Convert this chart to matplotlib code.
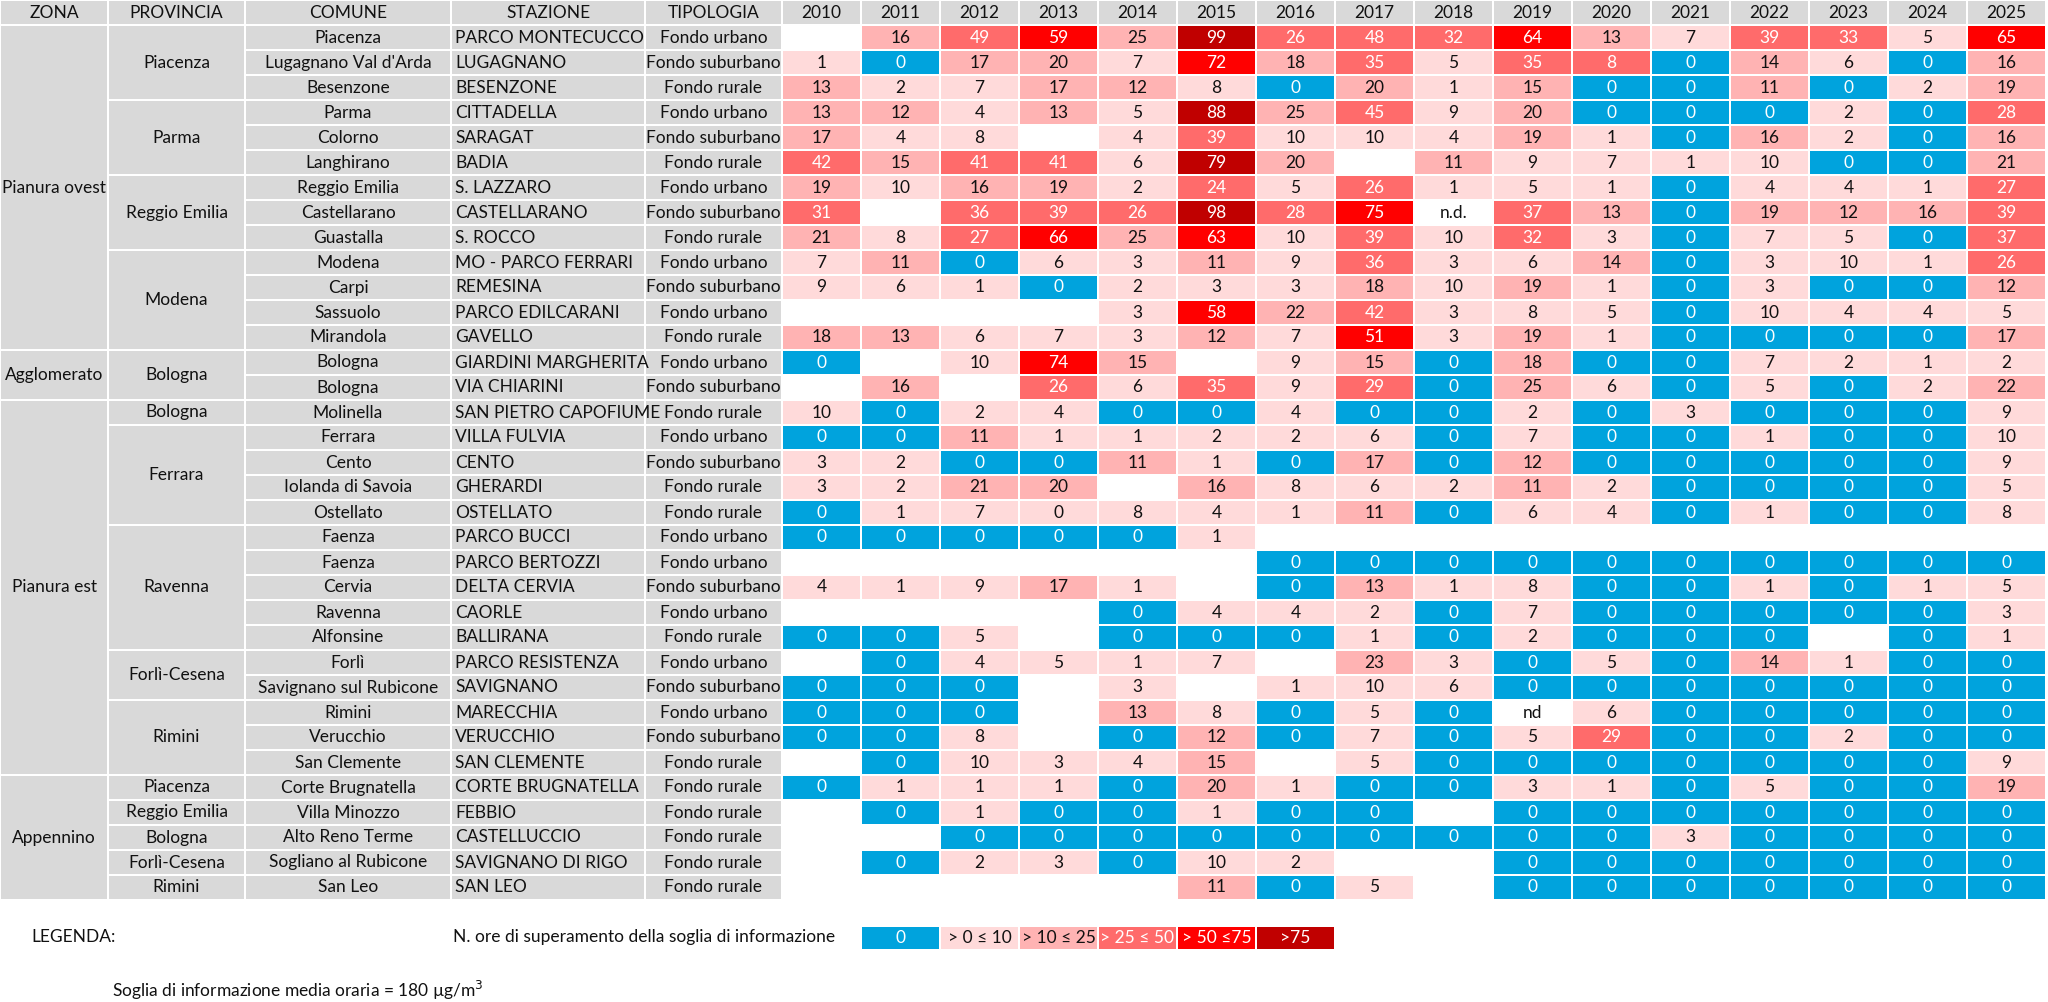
import matplotlib
matplotlib.use("Agg")
import matplotlib.pyplot as plt
from matplotlib.patches import Rectangle

plt.rcParams['font.family'] = ['Lato', 'DejaVu Sans']

anni = list(range(2010, 2026))

zone = ["Pianura ovest", "Agglomerato", "Pianura est", "Appennino"]
zone_righe = [13, 2, 15, 5]

province = ["Piacenza", "Parma", "Reggio Emilia", "Modena", "Bologna", "Bologna",
            "Ferrara", "Ravenna", "Forlì-Cesena", "Rimini",
            "Piacenza", "Reggio Emilia", "Bologna", "Forlì-Cesena", "Rimini"]
province_righe = [3, 3, 3, 4, 2, 1, 4, 5, 2, 3, 1, 1, 1, 1, 1]

comuni = ["Piacenza", "Lugagnano Val d'Arda", "Besenzone", "Parma", "Colorno", "Langhirano",
          "Reggio Emilia", "Castellarano", "Guastalla", "Modena", "Carpi", "Sassuolo", "Mirandola",
          "Bologna", "Bologna", "Molinella", "Ferrara", "Cento", "Iolanda di Savoia", "Ostellato",
          "Faenza", "Faenza", "Cervia", "Ravenna", "Alfonsine", "Forlì", "Savignano sul Rubicone",
          "Rimini", "Verucchio", "San Clemente", "Corte Brugnatella", "Villa Minozzo",
          "Alto Reno Terme", "Sogliano al Rubicone", "San Leo"]

stazioni = ["PARCO MONTECUCCO", "LUGAGNANO", "BESENZONE", "CITTADELLA", "SARAGAT", "BADIA",
            "S. LAZZARO", "CASTELLARANO", "S. ROCCO", "MO - PARCO FERRARI", "REMESINA",
            "PARCO EDILCARANI", "GAVELLO", "GIARDINI MARGHERITA", "VIA CHIARINI",
            "SAN PIETRO CAPOFIUME", "VILLA FULVIA", "CENTO", "GHERARDI", "OSTELLATO",
            "PARCO BUCCI", "PARCO BERTOZZI", "DELTA CERVIA", "CAORLE", "BALLIRANA",
            "PARCO RESISTENZA", "SAVIGNANO", "MARECCHIA", "VERUCCHIO", "SAN CLEMENTE",
            "CORTE BRUGNATELLA", "FEBBIO", "CASTELLUCCIO", "SAVIGNANO DI RIGO", "SAN LEO"]

tipologie = ["Fondo urbano", "Fondo suburbano", "Fondo rurale", "Fondo urbano", "Fondo suburbano",
             "Fondo rurale", "Fondo urbano", "Fondo suburbano", "Fondo rurale", "Fondo urbano",
             "Fondo suburbano", "Fondo urbano", "Fondo rurale", "Fondo urbano", "Fondo suburbano",
             "Fondo rurale", "Fondo urbano", "Fondo suburbano", "Fondo rurale", "Fondo rurale",
             "Fondo urbano", "Fondo urbano", "Fondo suburbano", "Fondo urbano", "Fondo rurale",
             "Fondo urbano", "Fondo suburbano", "Fondo urbano", "Fondo suburbano", "Fondo rurale",
             "Fondo rurale", "Fondo rurale", "Fondo rurale", "Fondo rurale", "Fondo rurale"]

N = None
# hours above the information threshold, 2010..2025 (None = empty cell)
ore = [
    [N, 16, 49, 59, 25, 99, 26, 48, 32, 64, 13, 7, 39, 33, 5, 65],
    [1, 0, 17, 20, 7, 72, 18, 35, 5, 35, 8, 0, 14, 6, 0, 16],
    [13, 2, 7, 17, 12, 8, 0, 20, 1, 15, 0, 0, 11, 0, 2, 19],
    [13, 12, 4, 13, 5, 88, 25, 45, 9, 20, 0, 0, 0, 2, 0, 28],
    [17, 4, 8, N, 4, 39, 10, 10, 4, 19, 1, 0, 16, 2, 0, 16],
    [42, 15, 41, 41, 6, 79, 20, N, 11, 9, 7, 1, 10, 0, 0, 21],
    [19, 10, 16, 19, 2, 24, 5, 26, 1, 5, 1, 0, 4, 4, 1, 27],
    [31, N, 36, 39, 26, 98, 28, 75, "n.d.", 37, 13, 0, 19, 12, 16, 39],
    [21, 8, 27, 66, 25, 63, 10, 39, 10, 32, 3, 0, 7, 5, 0, 37],
    [7, 11, 0, 6, 3, 11, 9, 36, 3, 6, 14, 0, 3, 10, 1, 26],
    [9, 6, 1, 0, 2, 3, 3, 18, 10, 19, 1, 0, 3, 0, 0, 12],
    [N, N, N, N, 3, 58, 22, 42, 3, 8, 5, 0, 10, 4, 4, 5],
    [18, 13, 6, 7, 3, 12, 7, 51, 3, 19, 1, 0, 0, 0, 0, 17],
    [0, N, 10, 74, 15, N, 9, 15, 0, 18, 0, 0, 7, 2, 1, 2],
    [N, 16, N, 26, 6, 35, 9, 29, 0, 25, 6, 0, 5, 0, 2, 22],
    [10, 0, 2, 4, 0, 0, 4, 0, 0, 2, 0, 3, 0, 0, 0, 9],
    [0, 0, 11, 1, 1, 2, 2, 6, 0, 7, 0, 0, 1, 0, 0, 10],
    [3, 2, 0, 0, 11, 1, 0, 17, 0, 12, 0, 0, 0, 0, 0, 9],
    [3, 2, 21, 20, N, 16, 8, 6, 2, 11, 2, 0, 0, 0, 0, 5],
    [0, 1, 7, 0, 8, 4, 1, 11, 0, 6, 4, 0, 1, 0, 0, 8],
    [0, 0, 0, 0, 0, 1, N, N, N, N, N, N, N, N, N, N],
    [N, N, N, N, N, N, 0, 0, 0, 0, 0, 0, 0, 0, 0, 0],
    [4, 1, 9, 17, 1, N, 0, 13, 1, 8, 0, 0, 1, 0, 1, 5],
    [N, N, N, N, 0, 4, 4, 2, 0, 7, 0, 0, 0, 0, 0, 3],
    [0, 0, 5, N, 0, 0, 0, 1, 0, 2, 0, 0, 0, N, 0, 1],
    [N, 0, 4, 5, 1, 7, N, 23, 3, 0, 5, 0, 14, 1, 0, 0],
    [0, 0, 0, N, 3, N, 1, 10, 6, 0, 0, 0, 0, 0, 0, 0],
    [0, 0, 0, N, 13, 8, 0, 5, 0, "nd", 6, 0, 0, 0, 0, 0],
    [0, 0, 8, N, 0, 12, 0, 7, 0, 5, 29, 0, 0, 2, 0, 0],
    [N, 0, 10, 3, 4, 15, N, 5, 0, 0, 0, 0, 0, 0, 0, 9],
    [0, 1, 1, 1, 0, 20, 1, 0, 0, 3, 1, 0, 5, 0, 0, 19],
    [N, 0, 1, 0, 0, 1, 0, 0, N, 0, 0, 0, 0, 0, 0, 0],
    [N, N, 0, 0, 0, 0, 0, 0, 0, 0, 0, 3, 0, 0, 0, 0],
    [N, 0, 2, 3, 0, 10, 2, N, N, 0, 0, 0, 0, 0, 0, 0],
    [N, N, N, N, N, 11, 0, 5, N, 0, 0, 0, 0, 0, 0, 0],
]

# cells whose colour in the source does not follow the legend thresholds
classe_forzata = {("LUGAGNANO", 2020): 3, ("S. LAZZARO", 2015): 3, ("OSTELLATO", 2013): 1}

soglie = [0, 10, 25, 50, 75]
legenda = ["0", "> 0 ≤ 10", "> 10 ≤ 25", "> 25 ≤ 50", "> 50 ≤75", ">75"]

# ---- style ----
colori = ["#00A3DD", "#FFDADA", "#FFB3B3", "#FF6B6B", "#FF0000", "#C00000"]
testo_col = ["white", "#111111", "#111111", "white", "white", "white"]
GRIGIO = "#D9D9D9"
FS = 12.5


def classe(v):
    if v == 0:
        return 0
    for i, s in enumerate(soglie[1:], start=1):
        if v <= s:
            return i
    return 5


fig = plt.figure(figsize=(20.48, 10.02), dpi=100)
ax = fig.add_axes([0, 0, 1, 1])
ax.set_xlim(0, 2048)
ax.set_ylim(1002, 0)
ax.axis("off")

col_x = [0, 108, 245, 451, 645, 782]
col_w_anno = 79
h_head = 25
h_row = 25
g = 1.2  # half gap (white grid)


def cella(x0, y0, w, h, fc):
    ax.add_patch(Rectangle((x0 + g, y0 + g), w - 2 * g, h - 2 * g, fc=fc, ec="none"))


# header
intest = ["ZONA", "PROVINCIA", "COMUNE", "STAZIONE", "TIPOLOGIA"]
for i, t in enumerate(intest):
    w = col_x[i + 1] - col_x[i]
    cella(col_x[i], 0, w, h_head, GRIGIO)
    ax.text(col_x[i] + w / 2, h_head / 2, t, ha="center", va="center", fontsize=FS, color="#111111")
for j, a in enumerate(anni):
    x0 = col_x[5] + j * col_w_anno
    cella(x0, 0, col_w_anno, h_head, GRIGIO)
    ax.text(x0 + col_w_anno / 2, h_head / 2, str(a), ha="center", va="center", fontsize=FS, color="#111111")

# merged zone / province cells
def gruppi(nomi, righe, c):
    r = 0
    for nome, n in zip(nomi, righe):
        y0 = h_head + r * h_row
        w = col_x[c + 1] - col_x[c]
        cella(col_x[c], y0, w, n * h_row, GRIGIO)
        ax.text(col_x[c] + w / 2, y0 + n * h_row / 2, nome, ha="center", va="center",
                fontsize=FS, color="#111111")
        r += n


gruppi(zone, zone_righe, 0)
gruppi(province, province_righe, 1)

for r in range(len(stazioni)):
    y0 = h_head + r * h_row
    yc = y0 + h_row / 2
    for c, testo, ha in [(2, comuni[r], "center"), (3, stazioni[r], "left"), (4, tipologie[r], "center")]:
        w = col_x[c + 1] - col_x[c]
        cella(col_x[c], y0, w, h_row, GRIGIO)
        tx = col_x[c] + w / 2 if ha == "center" else col_x[c] + 4
        ax.text(tx, yc, testo, ha=ha, va="center", fontsize=FS, color="#111111")
    for j, a in enumerate(anni):
        v = ore[r][j]
        x0 = col_x[5] + j * col_w_anno
        if v is None:
            continue
        if isinstance(v, str):
            ax.text(x0 + col_w_anno / 2, yc, v, ha="center", va="center", fontsize=FS, color="#111111")
            continue
        k = classe_forzata.get((stazioni[r], a), classe(v))
        cella(x0, y0, col_w_anno, h_row, colori[k])
        ax.text(x0 + col_w_anno / 2, yc, str(v), ha="center", va="center", fontsize=FS, color=testo_col[k])

# legend
y_leg = 926
ax.text(31, 937, "LEGENDA:", ha="left", va="center", fontsize=FS, color="#111111")
ax.text(453, 937, "N. ore di superamento della soglia di informazione", ha="left", va="center",
        fontsize=FS, color="#111111")
for k, lab in enumerate(legenda):
    x0 = col_x[5] + (k + 1) * col_w_anno
    cella(x0, y_leg, col_w_anno, 24, colori[k])
    ax.text(x0 + col_w_anno / 2, y_leg + 12, lab, ha="center", va="center", fontsize=FS, color=testo_col[k])

ax.text(112, 990, "Soglia di informazione media oraria = 180 µg/m$^{3}$", ha="left", va="center",
        fontsize=FS, color="#111111")

fig.savefig("out.png", dpi=100, facecolor="white")
